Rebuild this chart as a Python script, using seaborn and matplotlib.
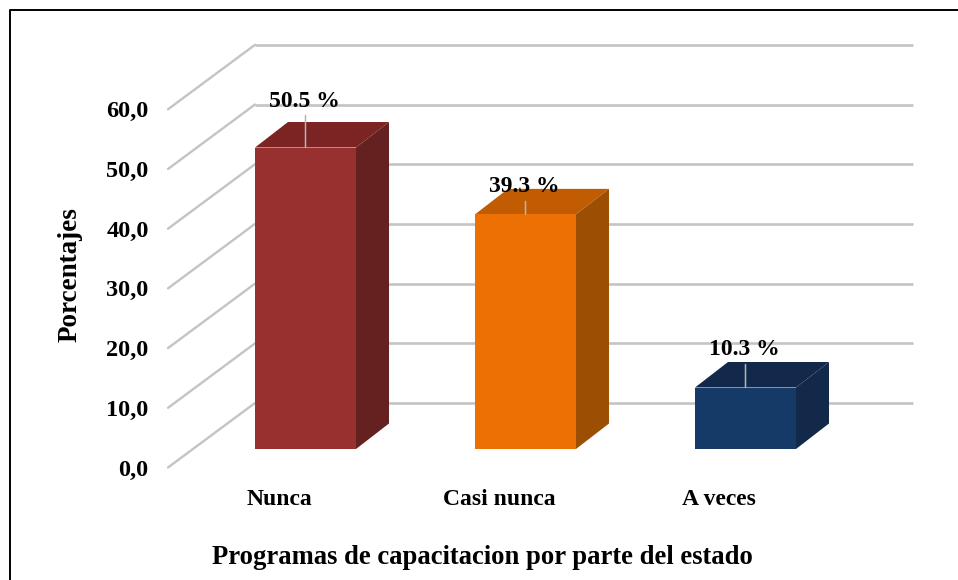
import matplotlib
matplotlib.use("Agg")
import matplotlib.pyplot as plt
import matplotlib.transforms as mtrans
from matplotlib.lines import Line2D
from matplotlib.patches import Polygon
import pandas as pd
import seaborn as sns

categories = ["Nunca", "Casi nunca", "A veces"]
values = [50.5, 39.3, 10.3]
value_labels = ["50.5 %", "39.3 %", "10.3 %"]
y_ticks = [0, 10, 20, 30, 40, 50, 60]
y_tick_labels = ["0,0", "10,0", "20,0", "30,0", "40,0", "50,0", "60,0"]

front_colors = ["#97302f", "#ec7004", "#163a68"]
top_colors = ["#7b2423", "#c25c02", "#13294b"]
side_colors = ["#642120", "#9c4e03", "#12294a"]
grid_color = "#c4c4c4"

sns.set_style("white")
plt.rcParams["font.family"] = ["Liberation Serif", "DejaVu Serif"]
plt.rcParams["font.weight"] = "bold"
plt.rcParams["text.color"] = "black"
plt.rcParams["axes.labelcolor"] = "black"
plt.rcParams["xtick.color"] = "black"
plt.rcParams["ytick.color"] = "black"

W, H = 958, 580
fig = plt.figure(figsize=(W / 100, H / 100), dpi=100)

# axes span the plane the bars stand in: x pixels 168-913, y pixels 449-45
ax = fig.add_axes([168 / W, (H - 449) / H, 745 / W, 404 / H])
px_x = 220.0   # pixels per category
px_y = 5.97    # pixels per percent

df = pd.DataFrame({"categoria": categories, "valor": values})
sns.barplot(data=df, x="categoria", y="valor", hue="categoria", palette=front_colors,
            width=101 / px_x, dodge=False, legend=False, saturation=1, linewidth=0,
            ax=ax, zorder=4)
ax.set_xlim(-137.5 / px_x, 607.5 / px_x)
ax.set_ylim(0, 404 / px_y)

# 3d look of the bars
bar_dx = 33 / px_x
bar_dy = 25.5 / px_y
for patch, top_c, side_c in zip(ax.patches, top_colors, side_colors):
    x0 = patch.get_x()
    x1 = x0 + patch.get_width()
    h = patch.get_height()
    ax.add_patch(Polygon([(x0, h), (x1, h), (x1 + bar_dx, h + bar_dy), (x0 + bar_dx, h + bar_dy)],
                         closed=True, fc=top_c, ec="none", zorder=3, clip_on=False))
    ax.add_patch(Polygon([(x1, 0), (x1 + bar_dx, bar_dy), (x1 + bar_dx, h + bar_dy), (x1, h)],
                         closed=True, fc=side_c, ec="none", zorder=3, clip_on=False))

# walls: back gridlines and the diagonals running out to the front
wall_back_x = -50.5 / px_x
wall_front_x = -137.5 / px_x
back_y0 = 46 / px_y
front_y0 = -18.5 / px_y
for t in y_ticks:
    ax.plot([wall_back_x, 607.5 / px_x], [t + back_y0, t + back_y0], color=grid_color, lw=1.9,
            zorder=1, clip_on=False, solid_capstyle="butt")
    ax.plot([wall_front_x, wall_back_x], [t + front_y0, t + back_y0], color=grid_color, lw=1.7,
            zorder=1, clip_on=False)

# value labels with their leader lines
label_offsets = [48, 29, 40]
leader_lengths = [32, 13, 23]
for i, (v, lab) in enumerate(zip(values, value_labels)):
    ax.annotate("", xy=(i, v), xytext=(0, leader_lengths[i] * 0.72), textcoords="offset points",
                arrowprops=dict(arrowstyle="-", color="#b4b4b4", lw=1.1, shrinkA=0, shrinkB=0),
                zorder=5, annotation_clip=False)
    ax.annotate(lab, xy=(i, v), xytext=(-1, (label_offsets[i] - 1.5) * 0.72), textcoords="offset points",
                ha="center", va="center", fontsize=17, fontweight="bold", color="black", zorder=6)

# ticks
ax.set_yticks(y_ticks)
ax.set_yticklabels(y_tick_labels, fontsize=17.5, fontweight="bold")
ax.set_xticks(range(len(categories)))
ax.set_xticklabels(categories, fontsize=17, fontweight="bold")
ax.tick_params(axis="both", length=0)
ax.tick_params(axis="y", pad=14)
ax.tick_params(axis="x", pad=29)
y_shift = mtrans.ScaledTranslation(0, -18.5 / 100, fig.dpi_scale_trans)
for lab in ax.get_yticklabels():
    lab.set_transform(lab.get_transform() + y_shift)
x_shift = mtrans.ScaledTranslation(-26.5 / 100, 0, fig.dpi_scale_trans)
for lab in ax.get_xticklabels():
    lab.set_transform(lab.get_transform() + x_shift)

ax.set_xlabel("Programas de capacitacion por parte del estado", fontsize=19.2, fontweight="bold")
ax.set_ylabel("Porcentajes", fontsize=19.5, fontweight="bold")
ax.xaxis.set_label_coords((482 - 168) / 745, -(558 - 449) / 404, transform=ax.transAxes)
ax.xaxis.label.set_va("center")
ax.yaxis.set_label_coords((70 - 168) / 745, (449 - 275) / 404, transform=ax.transAxes)
ax.yaxis.label.set_va("center")

sns.despine(ax=ax, left=True, bottom=True, top=True, right=True)
ax.patch.set_alpha(0)

# frame: only top and left edges show in the picture
fig.add_artist(Line2D([10 / W, 10 / W, 1], [0, (H - 10) / H, (H - 10) / H], color="black", lw=1.4))

fig.savefig("out.png", dpi=100)
